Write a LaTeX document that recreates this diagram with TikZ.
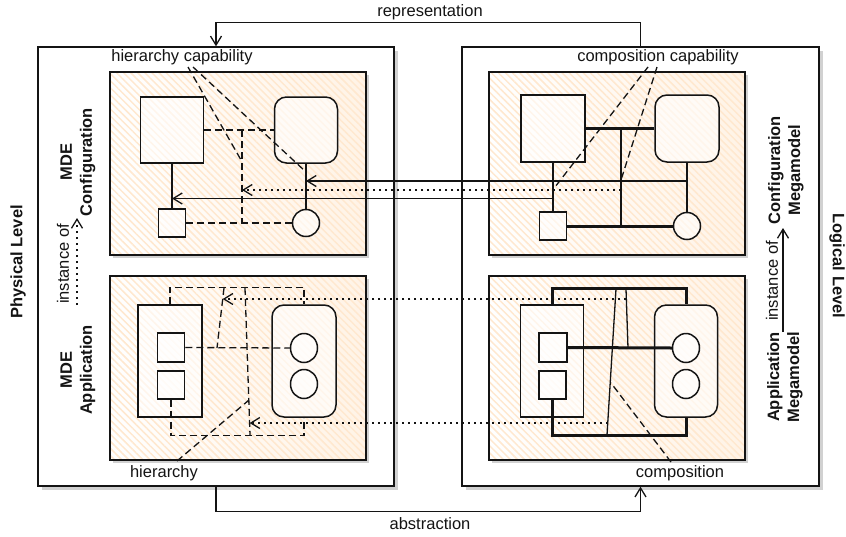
\documentclass[tikz,border=0pt]{standalone}
\usepackage{fontspec}
\setmainfont{Liberation Sans}
\usetikzlibrary{arrows.meta,shadows,patterns.meta,shapes.geometric}
\definecolor{ink}{HTML}{141414}
\definecolor{hatch}{HTML}{FFE8CF}
\definecolor{creamA}{HTML}{FFFFFF}
\definecolor{creamB}{HTML}{FFF3E6}

\begin{document}
\begin{tikzpicture}[x=1pt,y=-1pt,
  every node/.style={font=\fontsize{16.5}{20}\selectfont, text=ink},
  lbl/.style={font=\fontsize{16.5}{20}\selectfont\bfseries, align=center, inner sep=0},
  frame/.style={rectangle, inner sep=0, draw=ink, line width=1.4pt, fill=white,
    drop shadow={shadow xshift=3.5pt, shadow yshift=-3.5pt, opacity=0.18, fill=black}},
  panel/.style={rectangle, inner sep=0, left color=creamA, right color=creamB,
    drop shadow={shadow xshift=3pt, shadow yshift=-3pt, opacity=0.18, fill=black},
    postaction={pattern={Lines[angle=-45, distance=5pt, line width=1.5pt]}, pattern color=hatch},
    postaction={draw=ink, line width=1.5pt}},
  shp/.style={draw=ink, line width=1.5pt, inner sep=0,
    preaction={fill=white, fill opacity=0.6}},
  rnd/.style={shp, rectangle, rounded corners=12pt},
  conn/.style={draw=ink, line width=1.3pt},
  thk/.style={draw=ink, line width=3pt},
  dsh/.style={conn, dash pattern=on 7pt off 4pt},
  dot/.style={conn, dash pattern=on 2pt off 4pt},
  arr/.style={-{Straight Barb[length=9pt, width=11pt]}}
]
\useasboundingbox (0,0) rectangle (846,536);

% outer frames of the two levels
\node[frame, minimum width=356pt, minimum height=439pt] (phys) at (216,266.5) {};
\node[frame, minimum width=357pt, minimum height=439pt] (logi) at (640.5,266.5) {};

% representation / abstraction between levels
\draw[conn, arr] (logi.north) -- ++(0,-24) -| (phys.north);
\node (repr) at (430,12) {representation};
\draw[conn, arr] (phys.south) -- ++(0,25) -| (logi.south);
\node (abst) at (430,524) {abstraction};

% level titles
\node[lbl, rotate=90] (physL) at (18,262) {Physical Level};
\node[lbl, rotate=-90] (logL) at (837,266) {Logical Level};
\node[lbl, rotate=90] (mdeC) at (78,162) {MDE\\Configuration};
\node[lbl, rotate=90] (mdeA) at (78,370) {MDE\\Application};
\node[lbl, rotate=90] (megC) at (786,170) {Configuration\\Megamodel};
\node[lbl, rotate=90] (megA) at (785,377) {Application\\Megamodel};

% instance-of relations
\coordinate (iLa) at (77,305);
\coordinate (iLb) at (77,218);
\draw[dot, arr] (iLa) -- (iLb);
\node[rotate=90, inner sep=0] (instL) at (63,264) {instance of};
\coordinate (iRa) at (783,332);
\coordinate (iRb) at (783,228);
\draw[conn, arr] (iRa) -- (iRb);
\node[rotate=90, inner sep=0] (instR) at (772,281) {instance of};

% the four hatched panels
\node[panel, minimum width=256pt, minimum height=183pt] (pTL) at (238,163.5) {};
\node[panel, minimum width=256pt, minimum height=184pt] (pBL) at (238,368) {};
\node[panel, minimum width=256pt, minimum height=183pt] (pTR) at (617,163.5) {};
\node[panel, minimum width=256pt, minimum height=184pt] (pBR) at (617,368) {};

% ---- MDE configuration
\node[shp, rectangle, minimum width=63pt, minimum height=66pt] (sqA) at (172,130) {};
\node[rnd, minimum width=63pt, minimum height=66pt] (rrA) at (306,130) {};
\node[shp, rectangle, minimum width=27pt, minimum height=28pt] (ssA) at (172,223) {};
\node[shp, circle, minimum size=27pt] (ciA) at (306,223) {};
\draw[conn] (sqA.south) -- (ssA.north);
\draw[conn] (rrA.south) -- (ciA.north);
\draw[dsh] (sqA.east) -- (rrA.west);
\coordinate (hA) at (242,130);
\draw[dsh] (hA) -- (hA |- ssA.east);
\draw[dsh] (ssA.east) -- (ciA.west);

% ---- configuration megamodel
\node[shp, rectangle, minimum width=64pt, minimum height=67pt] (sqB) at (553,128.5) {};
\node[rnd, minimum width=64pt, minimum height=67pt] (rrB) at (687,128.5) {};
\node[shp, rectangle, minimum width=27pt, minimum height=28pt] (ssB) at (553,226) {};
\node[shp, circle, minimum size=27pt] (ciB) at (687,226) {};
\draw[conn] (sqB.south) -- (ssB.north);
\draw[conn] (rrB.south) -- (ciB.north);
\draw[thk] (sqB.east) -- (rrB.west);
\draw[thk] (ssB.east) -- (ciB.west);
\coordinate (vB) at (621,128.5);
\draw[conn] (vB) -- (vB |- ssB.east);

% mappings between configuration and its megamodel
\coordinate (m1s) at (687,181);
\coordinate (m1e) at (306,181);
\draw[conn, arr] (m1s) -- (m1e);
\coordinate (m2s) at (621,190);
\coordinate (m2e) at (242,190);
\draw[dot, arr] (m2s) -- (m2e);
\coordinate (m3s) at (553,198.5);
\coordinate (m3e) at (172,198.5);
\draw[conn, arr] (m3s) -- (m3e);

% capability callouts
\node (hcap) at (182,57) {hierarchy capability};
\coordinate (hc1) at (188,67);
\coordinate (hc2) at (193,67);
\coordinate (hct1) at (241,160);
\coordinate (hct2) at (306,172);
\draw[dsh] (hc1) -- (hct1);
\draw[dsh] (hc2) -- (hct2);
\node (ccap) at (658,57) {composition capability};
\coordinate (cc1) at (648,67);
\coordinate (cc2) at (657,67);
\coordinate (cct1) at (555,187);
\coordinate (cct2) at (621,180);
\draw[dsh] (cc1) -- (cct1);
\draw[dsh] (cc2) -- (cct2);

% ---- MDE application
\node[shp, rectangle, minimum width=64pt, minimum height=112pt] (brA) at (170,361) {};
\node[shp, rectangle, minimum width=27pt, minimum height=29pt] (s1A) at (171,347.5) {};
\node[shp, rectangle, minimum width=27pt, minimum height=28pt] (s2A) at (171,385) {};
\node[rnd, minimum width=64pt, minimum height=112pt] (rrC) at (304,361) {};
\node[shp, ellipse, minimum width=27pt, minimum height=29pt] (e1A) at (304,348) {};
\node[shp, ellipse, minimum width=27pt, minimum height=29pt] (e2A) at (304,384) {};
\draw[dsh] (brA.north) -- ++(0,-17) -| (rrC.north);
\draw[dsh] (s1A.east) -- (e1A.west);
\draw[dsh] (s2A.south) -- ++(0,36) -| (rrC.south);
\coordinate (aT1) at (224,288);
\coordinate (aB1) at (217,348);
\coordinate (aT2) at (245,288);
\coordinate (aB2) at (250,435);
\draw[dsh] (aT1) -- (aB1);
\draw[dsh] (aT2) -- (aB2);

% ---- application megamodel
\node[shp, rectangle, minimum width=63pt, minimum height=112pt] (brB) at (552,361) {};
\node[shp, rectangle, minimum width=28pt, minimum height=29pt] (s1B) at (553,347.5) {};
\node[shp, rectangle, minimum width=27pt, minimum height=28pt] (s2B) at (552.5,385) {};
\node[rnd, minimum width=63pt, minimum height=112pt] (rrD) at (686,361) {};
\node[shp, ellipse, minimum width=27pt, minimum height=29pt] (e1B) at (686,348) {};
\node[shp, ellipse, minimum width=27pt, minimum height=29pt] (e2B) at (686,384) {};
\draw[thk] (brB.north) -- ++(0,-16) -| (rrD.north);
\draw[thk] (s1B.east) -- (e1B.west);
\draw[thk] (s2B.south) -- ++(0,36) -| (rrD.south);
\coordinate (bT1) at (626,289);
\coordinate (bB1) at (628,348);
\coordinate (bT2) at (616,289);
\coordinate (bB2) at (607,435);
\draw[conn] (bT1) -- (bB1);
\draw[conn] (bT2) -- (bB2);

% mappings between application and its megamodel
\coordinate (n1s) at (626.3,299);
\coordinate (n1e) at (222.7,299);
\draw[dot, arr] (n1s) -- (n1e);
\coordinate (n2s) at (607.7,423);
\coordinate (n2e) at (249.6,423);
\draw[dot, arr] (n2s) -- (n2e);

% hierarchy / composition callouts
\node (hier) at (164,473) {hierarchy};
\coordinate (hi1) at (177,461);
\coordinate (hi2) at (249,400);
\draw[dsh] (hi1) -- (hi2);
\node (comp) at (680,473) {composition};
\coordinate (co1) at (671,462);
\coordinate (co2) at (611,383);
\draw[dsh] (co1) -- (co2);
\end{tikzpicture}
\end{document}
